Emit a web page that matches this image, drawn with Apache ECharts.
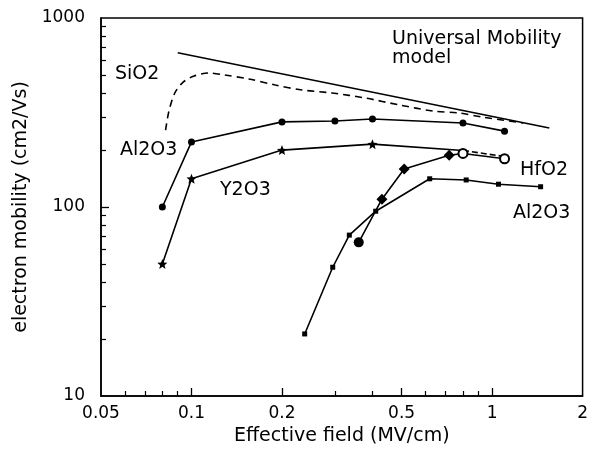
<!DOCTYPE html>
<html>
<head>
<meta charset="utf-8">
<script src="https://cdn.jsdelivr.net/npm/echarts@6/dist/echarts.min.js"></script>
<style>
  html, body { margin: 0; padding: 0; background: #fff; }
  #chart { width: 591px; height: 462px; }
</style>
</head>
<body>
<div id="chart"></div>
<script>
// Effective field (MV/cm) and electron mobility (cm2/Vs) for each gate stack
const universalX = [0.09, 1.55];
const universalY = [655, 262];

const sio2X = [0.082, 0.084, 0.088, 0.094, 0.102, 0.114, 0.129, 0.155, 0.19, 0.233, 0.294, 0.379, 0.49, 0.635, 0.78, 0.93, 1.27];
const sio2Y = [255, 318, 401, 459, 493, 512, 499, 476, 442, 416, 401, 377, 347, 322, 314, 299, 278];

const al2o3HighX = [0.08, 0.1, 0.2, 0.3, 0.4, 0.8, 1.1];
const al2o3HighY = [100, 221, 282, 285, 292, 278, 252];

const y2o3X = [0.08, 0.1, 0.2, 0.4, 0.8];
const y2o3Y = [50, 141, 200, 215, 199];
const y2o3TailX = [0.8, 1.1];
const y2o3TailY = [199, 185];

const hfo2X = [0.36, 0.43, 0.51, 0.72, 0.8, 1.1];
const hfo2Y = [65, 110, 159, 188, 192, 180];

const al2o3LowX = [0.238, 0.295, 0.335, 0.41, 0.62, 0.82, 1.05, 1.45];
const al2o3LowY = [21.3, 48, 71, 95, 141, 139, 132, 128];

// Axis ticks and labels
const xLabelValues = [0.05, 0.1, 0.2, 0.5, 1, 2];
const xMajorTicks = [0.1, 0.2, 0.5, 1];
const xMinorTicks = [0.06, 0.07, 0.08, 0.09, 0.3, 0.4, 0.6, 0.7, 0.8, 0.9];
const yLabelValues = [10, 100, 1000];
const yMajorTicks = [100];
const yMinorTicks = [20, 30, 40, 50, 60, 70, 80, 90, 200, 300, 400, 500, 600, 700, 800, 900];

const pairs = (xs, ys) => xs.map((x, i) => [x, ys[i]]);
const FONT = '"DejaVu Sans", "Liberation Sans", Arial, sans-serif';
const INK = '#000';

const starPath = 'path://M0,-10 L2.6,-3.6 L9.5,-3.1 L4.2,1.4 L5.9,8.1 L0,4.4 L-5.9,8.1 L-4.2,1.4 L-9.5,-3.1 L-2.6,-3.6 Z';

const baseLine = { color: INK, width: 1.6 };

const chart = echarts.init(document.getElementById('chart'), null, { renderer: 'canvas' });

const xCommon = {
  type: 'log', logBase: 10, min: 0.05, max: 2, gridIndex: 0,
  splitLine: { show: false }
};
const yCommon = {
  type: 'log', logBase: 10, min: 10, max: 1000, gridIndex: 0,
  splitLine: { show: false }
};

chart.setOption({
  animation: false,
  backgroundColor: '#fff',
  grid: {
    left: 101, right: 8, top: 18, bottom: 66,
    show: true, borderColor: INK, borderWidth: 1.5, backgroundColor: 'transparent'
  },
  xAxis: [
    Object.assign({}, xCommon, {
      position: 'bottom',
      name: 'Effective field (MV/cm)',
      nameLocation: 'middle', nameGap: 30,
      nameTextStyle: { fontFamily: FONT, fontSize: 19, color: INK },
      axisLine: { show: true, lineStyle: { color: INK, width: 1.5 } },
      axisTick: { show: true, inside: true, length: 8, customValues: xMajorTicks, lineStyle: { color: INK, width: 1.3 } },
      axisLabel: {
        show: true, customValues: xLabelValues, margin: 9,
        fontFamily: FONT, fontSize: 17, color: INK,
        formatter: v => String(+Number(v).toPrecision(3))
      }
    }),
    Object.assign({}, xCommon, {
      position: 'bottom',
      axisLine: { show: false },
      axisTick: { show: true, inside: true, length: 5, customValues: xMinorTicks, lineStyle: { color: INK, width: 1.2 } },
      axisLabel: { show: false }
    })
  ],
  yAxis: [
    Object.assign({}, yCommon, {
      position: 'left',
      name: 'electron mobility (cm2/Vs)',
      nameLocation: 'middle', nameGap: 66, nameRotate: 90,
      nameTextStyle: { fontFamily: FONT, fontSize: 19, color: INK },
      axisLine: { show: true, lineStyle: { color: INK, width: 1.5 } },
      axisTick: { show: true, inside: true, length: 8, customValues: yMajorTicks, lineStyle: { color: INK, width: 1.3 } },
      axisLabel: {
        show: true, customValues: yLabelValues, margin: 16,
        fontFamily: FONT, fontSize: 17, color: INK,
        formatter: v => String(Math.round(v))
      }
    }),
    Object.assign({}, yCommon, {
      position: 'left',
      axisLine: { show: false },
      axisTick: { show: true, inside: true, length: 5, customValues: yMinorTicks, lineStyle: { color: INK, width: 1.2 } },
      axisLabel: { show: false }
    })
  ],
  series: [
    {
      name: 'Universal Mobility model', type: 'line', data: pairs(universalX, universalY),
      showSymbol: false, symbol: 'none', lineStyle: Object.assign({}, baseLine, { width: 1.5 })
    },
    {
      name: 'SiO2', type: 'line', data: pairs(sio2X, sio2Y), smooth: 0.3,
      symbol: 'none', lineStyle: Object.assign({}, baseLine, { type: [7, 5], width: 1.6 })
    },
    {
      name: 'Al2O3', type: 'line', data: pairs(al2o3HighX, al2o3HighY),
      symbol: 'circle', symbolSize: 7, itemStyle: { color: INK }, lineStyle: baseLine
    },
    {
      name: 'Y2O3', type: 'line',
      data: pairs(y2o3X, y2o3Y).map((p, i, arr) => i === arr.length - 1 ? { value: p, symbol: 'none' } : p),
      symbol: starPath, symbolSize: 10, itemStyle: { color: INK }, lineStyle: baseLine
    },
    {
      name: 'Y2O3 tail', type: 'line', data: pairs(y2o3TailX, y2o3TailY),
      symbol: 'none', lineStyle: Object.assign({}, baseLine, { type: [6, 3] })
    },
    {
      name: 'HfO2', type: 'line',
      data: pairs(hfo2X, hfo2Y).map((p, i, arr) => {
        if (i === 0) return { value: p, symbol: 'circle', symbolSize: 10 };
        if (i >= arr.length - 2) return { value: p, symbol: 'emptyCircle', symbolSize: 9, itemStyle: { color: INK, borderWidth: 2.4 } };
        return p;
      }),
      symbol: 'diamond', symbolSize: 11, itemStyle: { color: INK }, lineStyle: baseLine, z: 3
    },
    {
      name: 'Al2O3 low', type: 'line', data: pairs(al2o3LowX, al2o3LowY),
      symbol: 'rect', symbolSize: 5, itemStyle: { color: INK }, lineStyle: baseLine
    }
  ],
  graphic: [
    { type: 'text', left: 392, top: 30, style: { text: 'Universal Mobility', fontFamily: FONT, fontSize: 19, fill: INK } },
    { type: 'text', left: 392, top: 49, style: { text: 'model', fontFamily: FONT, fontSize: 19, fill: INK } },
    { type: 'text', left: 115, top: 65, style: { text: 'SiO2', fontFamily: FONT, fontSize: 19, fill: INK } },
    { type: 'text', left: 120, top: 141, style: { text: 'Al2O3', fontFamily: FONT, fontSize: 19, fill: INK } },
    { type: 'text', left: 220, top: 181, style: { text: 'Y2O3', fontFamily: FONT, fontSize: 19, fill: INK } },
    { type: 'text', left: 520, top: 161, style: { text: 'HfO2', fontFamily: FONT, fontSize: 19, fill: INK } },
    { type: 'text', left: 513, top: 204, style: { text: 'Al2O3', fontFamily: FONT, fontSize: 19, fill: INK } }
  ]
});
</script>
</body>
</html>
